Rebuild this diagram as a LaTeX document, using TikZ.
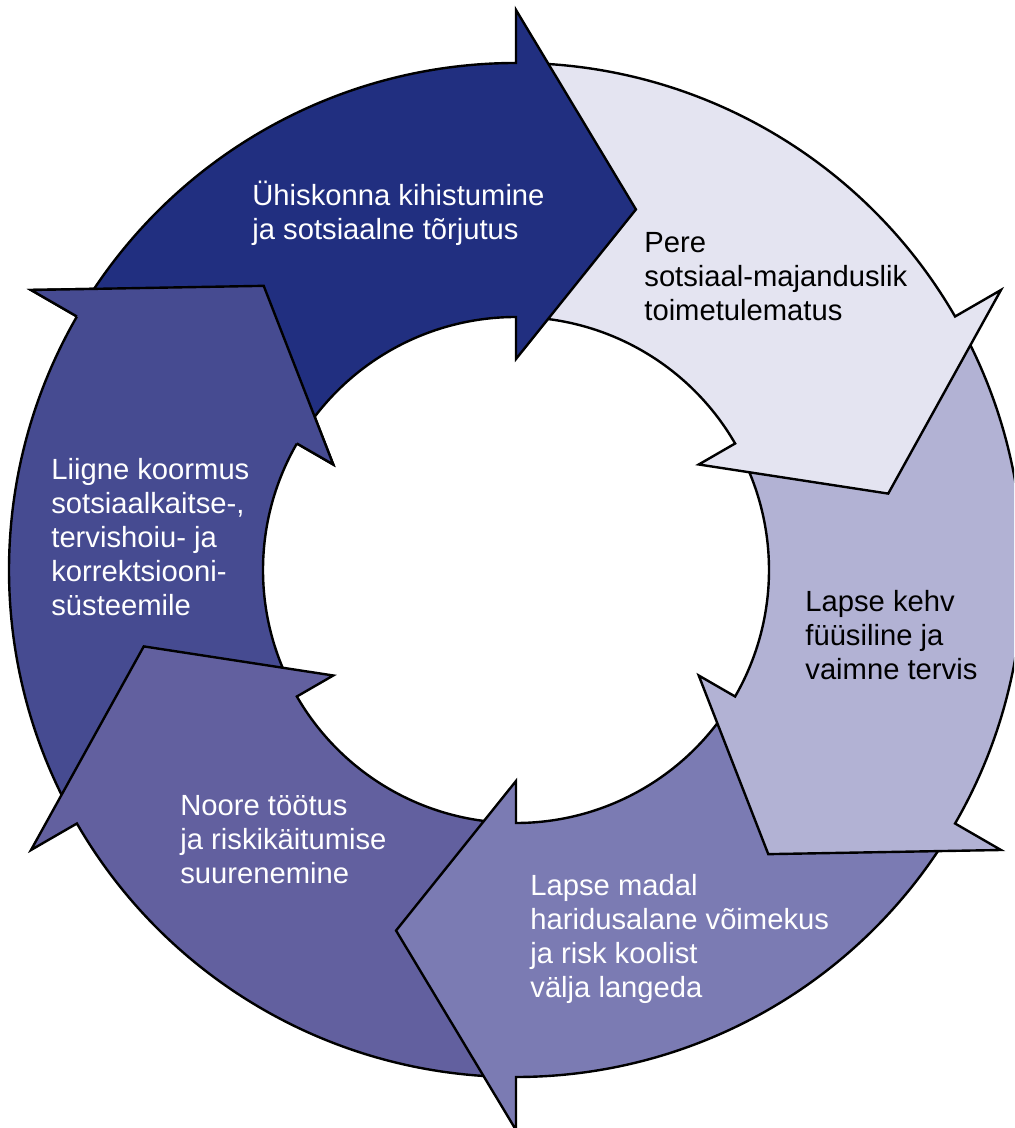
\documentclass[tikz,border=0pt]{standalone}
\usepackage{fontspec}
\setmainfont{Liberation Sans}
\definecolor{cYhis}{RGB}{33,47,128}
\definecolor{cPere}{RGB}{228,228,241}
\definecolor{cKehv}{RGB}{178,178,212}
\definecolor{cMadal}{RGB}{123,123,179}
\definecolor{cNoore}{RGB}{98,96,159}
\definecolor{cLiigne}{RGB}{70,75,145}
\begin{document}
\begin{tikzpicture}[x=0.5pt,y=0.5pt,line join=miter]
\tikzset{arr/.style={draw=black,line width=1.2pt},
  lbl/.style={anchor=base west,inner sep=0pt,align=left,font=\fontsize{14.6}{17}\selectfont}}
\clip (-516,-558) rectangle (498,570);

% ring arrows, base angle of head / colour
\foreach \b/\c in {150/cLiigne,-150/cNoore,-90/cMadal,-30/cKehv,30/cPere,90/cYhis}{
  \pgfmathsetmacro\t{\b+57}
  \pgfmathsetmacro\p{\b-18.4}
  \draw[arr,fill=\c] (\t:507) arc[start angle=\t,end angle=\b,radius=507]
    -- (\b:560) -- (\p:380) -- (\b:211) -- (\b:253)
    arc[start angle=\b,end angle=\t,radius=253] -- cycle;
}
% head of the last arrow again, over the tail of the first
\fill[cLiigne] (150:507) -- (150:560) -- (131.6:380) -- (150:211) -- (150:253) -- cycle;
\draw[arr] (150:507) -- (150:560) -- (131.6:380) -- (150:211) -- (150:253);

% labels, placed at the baseline of their last line
\node[lbl,text=white] (yhis) at (-264,330) {Ühiskonna kihistumine\\ja sotsiaalne tõrjutus};
\node[lbl] (pere) at (128,249) {Pere\\sotsiaal-majanduslik\\toimetulematus};
\node[lbl] (kehv) at (289,-110) {Lapse kehv\\füüsiline ja\\vaimne tervis};
\node[lbl,text=white] (madal) at (14,-427) {Lapse madal\\haridusalane võimekus\\ja risk koolist\\välja langeda};
\node[lbl,text=white] (noore) at (-336,-313) {Noore töötus\\ja riskikäitumise\\suurenemine};
\node[lbl,text=white] (liigne) at (-465,-46) {Liigne koormus\\sotsiaalkaitse-,\\tervishoiu- ja\\korrektsiooni-\\süsteemile};
\end{tikzpicture}
\end{document}
